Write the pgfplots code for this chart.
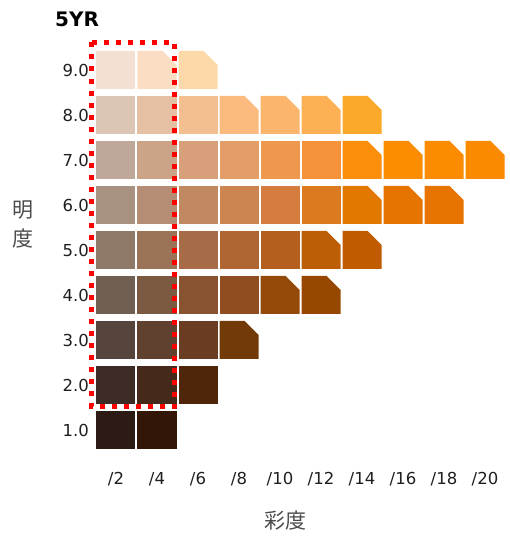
\documentclass[border=0pt]{standalone}
\usepackage{pgfplots}
\usepackage{pgfplotstable}
\pgfplotsset{compat=1.18}
\usepackage{fontspec}
\setmainfont{DejaVu Sans}
\newfontfamily\cjk{Noto Sans CJK JP}

% plain chips: chroma, value, R, G, B
\pgfplotstableread{
x y R G B
2 9 243 224 210
2 8 220 197 181
4 8 230 192 162
6 8 243 190 144
2 7 191 168 153
4 7 203 163 134
6 7 216 160 122
8 7 229 157 104
10 7 238 152 79
12 7 245 146 58
2 6 169 145 130
4 6 181 141 116
6 6 193 137 97
8 6 204 132 80
10 6 213 125 62
12 6 220 122 32
2 5 143 121 105
4 5 155 115 89
6 5 166 108 71
8 5 175 102 51
10 5 181 95 30
2 4 113 95 82
4 4 124 90 66
6 4 135 83 49
8 4 143 77 32
2 3 85 69 60
4 3 96 65 47
6 3 106 60 33
2 2 61 44 37
4 2 69 41 27
6 2 79 38 10
2 1 44 27 21
4 1 50 23 7
}\chipsA

% chamfered chips
\pgfplotstableread{
x y R G B
4 9 250 221 195
6 9 253 216 168
8 8 251 186 126
10 8 252 181 108
12 8 253 177 84
14 8 251 169 43
14 7 251 143 12
16 7 252 141 0
18 7 252 139 0
20 7 252 138 0
14 6 227 120 0
16 6 229 117 0
18 6 231 116 0
12 5 188 94 5
14 5 192 91 0
10 4 148 75 10
12 4 152 71 0
8 3 113 58 7
}\chipsB

\pgfdeclareplotmark{chipsq}{%
  \pgfpathrectangle{\pgfqpoint{-19.5pt}{-19pt}}{\pgfqpoint{39pt}{38pt}}%
  \pgfusepathqfill
}
\pgfdeclareplotmark{chipcut}{%
  \pgfpathmoveto{\pgfqpoint{-19.5pt}{-19pt}}%
  \pgfpathlineto{\pgfqpoint{19.5pt}{-19pt}}%
  \pgfpathlineto{\pgfqpoint{19.5pt}{5pt}}%
  \pgfpathlineto{\pgfqpoint{5.5pt}{19pt}}%
  \pgfpathlineto{\pgfqpoint{-19.5pt}{19pt}}%
  \pgfpathclose
  \pgfusepathqfill
}

\pgfplotsset{
  chipstyle/.style={scatter, only marks,
    visualization depends on={\thisrow{R}/255 \as \chR},
    visualization depends on={\thisrow{G}/255 \as \chG},
    visualization depends on={\thisrow{B}/255 \as \chB},
    scatter/@pre marker code/.code={\pgfscope\definecolor{chipc}{rgb}{\chR,\chG,\chB}\pgfsetfillcolor{chipc}},
    scatter/@post marker code/.code={\endpgfscope},
  }
}

\begin{document}
\begin{tikzpicture}
\begin{axis}[
  x=20.5pt, y=45pt,
  xmin=1, xmax=21, ymin=0.5, ymax=9.5,
  axis line style={draw=none},
  tick style={draw=none},
  major tick length=0pt,
  clip=false,
  clip marker paths=true,
  /pgf/number format/assume math mode=true,
  xtick={2,4,6,8,10,12,14,16,18,20},
  xticklabels={/2,/4,/6,/8,/10,/12,/14,/16,/18,/20},
  ytick={1,2,3,4,5,6,7,8,9},
  yticklabels={1.0,2.0,3.0,4.0,5.0,6.0,7.0,8.0,9.0},
  tick label style={font=\fontsize{16.5}{18}\selectfont, text=black!88},
  yticklabel style={anchor=east, inner sep=0pt, xshift=-6.5pt},
  xticklabel style={anchor=base, inner sep=0pt, yshift=-31.5pt},
]
\addplot[chipstyle, mark=chipsq] table[x=x,y=y]{\chipsA};
\addplot[chipstyle, mark=chipcut] table[x=x,y=y]{\chipsB};

\draw[red, line width=5pt, dash pattern=on 5pt off 7pt]
  (axis cs:0.829,9.611) rectangle (axis cs:4.878,1.533);

\node[anchor=base west, inner sep=0pt, font=\fontsize{20}{22}\selectfont\bfseries]
  at (axis cs:-0.976,9.956) {5YR};
\node[align=center, inner sep=0pt, text=black!70, font=\cjk\fontsize{21}{29}\selectfont]
  at (axis cs:-2.537,5.567) {明\\度};
\node[inner sep=0pt, text=black!70, font=\cjk\fontsize{21}{24}\selectfont]
  at (axis cs:10.268,-1.022) {彩度};

\coordinate (bl) at (axis cs:-3.6585,-1.3778);
\coordinate (tr) at (axis cs:21.2195,10.5556);
\end{axis}
\pgfresetboundingbox
\path[use as bounding box] (bl) rectangle (tr);
\end{tikzpicture}
\end{document}
